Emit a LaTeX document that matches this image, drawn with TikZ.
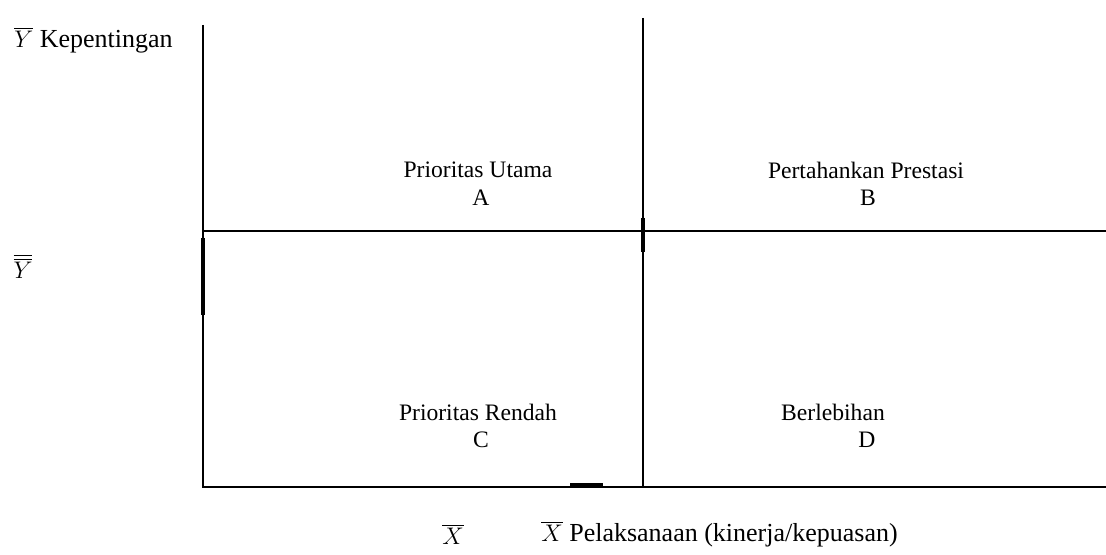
\documentclass[tikz,border=0pt]{standalone}
\usepackage{fontspec}
\setmainfont{Liberation Serif}
\begin{document}
\begin{tikzpicture}[x=0.5pt, y=-0.5pt, font=\fontsize{11.8}{14}\selectfont,
        axis/.style={line width=1pt},
        heavy/.style={line width=1.8pt},
        qlbl/.style={inner sep=1pt, align=center},
        tlbl/.style={inner sep=1pt, anchor=west, font=\fontsize{13}{15}\selectfont}]
        \useasboundingbox (0,0) rectangle (1106,555);
        % ---- titik sumbu ----
        \coordinate (top) at (203,25);
        \coordinate (o)   at (203,487);
        \coordinate (r)   at (1106,487);
        \coordinate (ml)  at (203,231);
        \coordinate (mr)  at (1106,231);
        \coordinate (mt)  at (643,18);
        \coordinate (mb)  at (643,487);
        % ---- sumbu dan garis tengah ----
        \draw[axis] (top) -- (o) -- (r);
        \draw[axis] (ml) -- (mr);
        \draw[axis] (mt) -- (mb);
        % ---- bagian tebal ----
        \coordinate (h1) at (203,238);
        \coordinate (h2) at (203,315);
        \coordinate (h3) at (643,218);
        \coordinate (h4) at (643,252);
        \coordinate (h5) at (570,485);
        \coordinate (h6) at (603,485);
        \draw[heavy] (h1) -- (h2);
        \draw[heavy] (h3) -- (h4);
        \draw[heavy] (h5) -- (h6);
        % ---- label sumbu ----
        \node[tlbl] (ylab) at (12,40) {$\overline{Y}$ Kepentingan};
        \node[qlbl, font=\fontsize{13}{15}\selectfont] (ybar) at (23,266) {$\overline{\overline{Y}}$};
        \node[qlbl, font=\fontsize{13}{15}\selectfont] (xbar) at (453,534) {$\overline{X}$};
        \node[tlbl] (xlab) at (539,534) {$\overline{X}$ Pelaksanaan (kinerja/kepuasan)};
        % ---- kuadran ----
        \node[qlbl] (qa) at (478,170) {Prioritas Utama};
        \node[qlbl] (la) at (481,198) {A};
        \node[qlbl] (qb) at (866,170) {Pertahankan Prestasi};
        \node[qlbl] (lb) at (868,198) {B};
        \node[qlbl] (qc) at (478,412) {Prioritas Rendah};
        \node[qlbl] (lc) at (481,440) {C};
        \node[qlbl] (qd) at (833,412) {Berlebihan};
        \node[qlbl] (ld) at (867,440) {D};
    \end{tikzpicture}
\end{document}
